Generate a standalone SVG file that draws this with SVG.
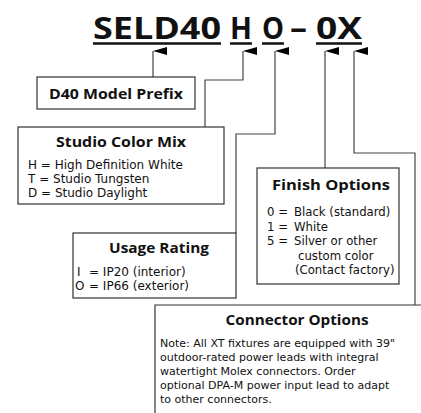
<svg xmlns="http://www.w3.org/2000/svg" width="421" height="413" viewBox="0 0 421 413">
<style>
.t{font-family:"Open Sans","Noto Sans","Liberation Sans",sans-serif;fill:#111}
.big{font-size:31px;font-weight:bold}
.h{font-size:15px;font-weight:bold;text-anchor:middle}
.b{font-family:"DejaVu Sans","Liberation Sans",sans-serif;font-size:12px;fill:#111}
.f{font-size:11.7px}
.c{font-size:11px}
.box{fill:#fff;stroke:#333;stroke-width:1.2}
.ln{fill:none;stroke:#444;stroke-width:1.2}
.ul{stroke:#111;stroke-width:2.5}
</style>
<defs>
<marker id="ah" viewBox="0 0 8 14" refX="4" refY="0" markerWidth="8" markerHeight="14" markerUnits="userSpaceOnUse" orient="auto-start-reverse">
<path d="M0,14 L4,0 L8,14 Z" fill="#000"/>
</marker>
</defs>
<rect width="421" height="413" fill="#fff"/>
<g id="title">
<text class="t big" x="93" y="39" textLength="128" lengthAdjust="spacingAndGlyphs">SELD40</text>
<text class="t big" x="230" y="39" textLength="22" lengthAdjust="spacingAndGlyphs">H</text>
<text class="t big" x="262" y="39" textLength="22" lengthAdjust="spacingAndGlyphs">O</text>
<text class="t big" x="290" y="39" textLength="17" lengthAdjust="spacingAndGlyphs">–</text>
<text class="t big" x="316" y="39" textLength="46" lengthAdjust="spacingAndGlyphs">0X</text>
<line class="ul" x1="93" y1="43.5" x2="221" y2="43.5"/>
<line class="ul" x1="230" y1="43.5" x2="252" y2="43.5"/>
<line class="ul" x1="262" y1="43.5" x2="284" y2="43.5"/>
<line class="ul" x1="316" y1="43.5" x2="362" y2="43.5"/>
</g>
<g id="connectors">
<path class="ln" d="M153,77 V51" marker-end="url(#ah)"/>
<path class="ln" d="M205,127 V80 H243 V51" marker-end="url(#ah)"/>
<path class="ln" d="M236,233 V134 H275 V51" marker-end="url(#ah)"/>
<path class="ln" d="M325,168 V51" marker-end="url(#ah)"/>
<path class="ln" d="M415,305 V153 H354 V51" marker-end="url(#ah)"/>
</g>
<g id="prefix">
<rect class="box" x="37" y="77" width="158" height="32"/>
<text class="t h" x="116" y="99" textLength="134" lengthAdjust="spacingAndGlyphs">D40 Model Prefix</text>
</g>
<g id="color">
<rect class="box" x="18" y="127" width="206" height="77"/>
<text class="t h" x="121" y="147" textLength="130" lengthAdjust="spacingAndGlyphs">Studio Color Mix</text>
<text class="b" x="28" y="169">H = High Definition White</text>
<text class="b" x="28" y="183">T = Studio Tungsten</text>
<text class="b" x="28" y="197">D = Studio Daylight</text>
</g>
<g id="usage">
<rect class="box" x="73" y="233" width="163" height="65"/>
<text class="t h" x="159" y="253" textLength="100" lengthAdjust="spacingAndGlyphs">Usage Rating</text>
<text class="b" x="77" y="276">I</text><text class="b" x="89" y="276">= IP20 (interior)</text>
<text class="b" x="75" y="290">O</text><text class="b" x="89" y="290">= IP66 (exterior)</text>
</g>
<g id="finish">
<rect class="box" x="257" y="168" width="142" height="116"/>
<text class="t h" x="331" y="190" textLength="118" lengthAdjust="spacingAndGlyphs">Finish Options</text>
<text class="b f" x="267" y="216">0 =</text><text class="b f" x="294" y="216">Black (standard)</text>
<text class="b f" x="267" y="230.5">1 =</text><text class="b f" x="294" y="230.5">White</text>
<text class="b f" x="267" y="245">5 =</text><text class="b f" x="294" y="245">Silver or other</text>
<text class="b f" x="298" y="259.5">custom color</text>
<text class="b f" x="295" y="274">(Contact factory)</text>
</g>
<g id="connector-options">
<path class="box" d="M421,305 H155 V413"/>
<text class="t h" x="297" y="325" textLength="143" lengthAdjust="spacingAndGlyphs">Connector Options</text>
<text class="b c" x="160" y="347">Note: All XT fixtures are equipped with 39"</text>
<text class="b c" x="160" y="361">outdoor-rated power leads with integral</text>
<text class="b c" x="160" y="375">watertight Molex connectors.  Order</text>
<text class="b c" x="160" y="389">optional DPA-M power input lead to adapt</text>
<text class="b c" x="160" y="403">to other connectors.</text>
</g>
</svg>
